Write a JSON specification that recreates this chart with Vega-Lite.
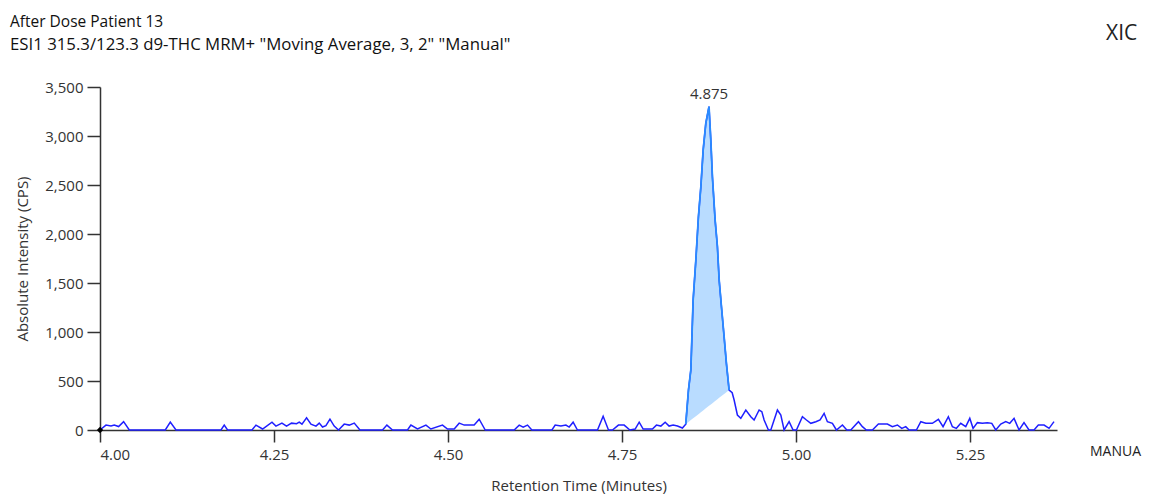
{
  "$schema": "https://vega.github.io/schema/vega-lite/v6.json",
  "width": 957,
  "height": 343,
  "autosize": {"type": "none"},
  "padding": {"left": 100, "top": 87, "right": 101, "bottom": 66},
  "background": "white",
  "config": {"view": {"stroke": null}, "font": "Open Sans"},
  "title": {
    "text": "After Dose Patient 13",
    "subtitle": "\u00a0ESI1 315.3/123.3 d9-THC MRM+ \"Moving Average, 3, 2\" \"Manual\"",
    "anchor": "start",
    "frame": "group",
    "dx": -90,
    "offset": -31,
    "font": "Open Sans",
    "subtitleFont": "Open Sans",
    "fontSize": 15.5,
    "subtitleFontSize": 16.8,
    "fontWeight": "normal",
    "color": "#111111",
    "subtitleColor": "#111111",
    "subtitlePadding": 7
  },
  "datasets": {
    "trace": [
      {"t": 4.0, "v": 0},
      {"t": 4.0086, "v": 50},
      {"t": 4.0158, "v": 40},
      {"t": 4.0205, "v": 50},
      {"t": 4.0267, "v": 35},
      {"t": 4.0339, "v": 85},
      {"t": 4.0421, "v": 0},
      {"t": 4.0938, "v": 0},
      {"t": 4.1010, "v": 80},
      {"t": 4.1092, "v": 0},
      {"t": 4.1738, "v": 0},
      {"t": 4.1785, "v": 50},
      {"t": 4.1833, "v": 0},
      {"t": 4.2183, "v": 0},
      {"t": 4.2241, "v": 50},
      {"t": 4.2336, "v": 10},
      {"t": 4.2471, "v": 80},
      {"t": 4.2528, "v": 40},
      {"t": 4.2614, "v": 70},
      {"t": 4.2680, "v": 40},
      {"t": 4.2752, "v": 70},
      {"t": 4.2824, "v": 65},
      {"t": 4.2863, "v": 80},
      {"t": 4.2902, "v": 60},
      {"t": 4.2968, "v": 125},
      {"t": 4.3031, "v": 60},
      {"t": 4.3103, "v": 40},
      {"t": 4.3150, "v": 70},
      {"t": 4.3197, "v": 30},
      {"t": 4.3246, "v": 45},
      {"t": 4.3304, "v": 110},
      {"t": 4.3365, "v": 40},
      {"t": 4.3427, "v": 0},
      {"t": 4.3509, "v": 60},
      {"t": 4.3581, "v": 50},
      {"t": 4.3653, "v": 70},
      {"t": 4.3735, "v": 0},
      {"t": 4.4059, "v": 0},
      {"t": 4.4122, "v": 50},
      {"t": 4.4203, "v": 0},
      {"t": 4.4418, "v": 0},
      {"t": 4.4467, "v": 50},
      {"t": 4.4562, "v": 10},
      {"t": 4.4683, "v": 50},
      {"t": 4.4754, "v": 10},
      {"t": 4.4921, "v": 50},
      {"t": 4.4993, "v": 10},
      {"t": 4.5089, "v": 10},
      {"t": 4.5161, "v": 70},
      {"t": 4.5233, "v": 50},
      {"t": 4.5305, "v": 50},
      {"t": 4.5376, "v": 50},
      {"t": 4.5448, "v": 110},
      {"t": 4.5535, "v": 0},
      {"t": 4.5951, "v": 0},
      {"t": 4.6023, "v": 50},
      {"t": 4.6080, "v": 30},
      {"t": 4.6142, "v": 50},
      {"t": 4.6205, "v": 0},
      {"t": 4.6493, "v": 0},
      {"t": 4.6540, "v": 50},
      {"t": 4.6622, "v": 40},
      {"t": 4.6694, "v": 50},
      {"t": 4.6741, "v": 30},
      {"t": 4.6798, "v": 80},
      {"t": 4.6860, "v": 0},
      {"t": 4.7148, "v": 0},
      {"t": 4.7229, "v": 140},
      {"t": 4.7306, "v": 0},
      {"t": 4.7363, "v": 0},
      {"t": 4.7449, "v": 50},
      {"t": 4.7531, "v": 50},
      {"t": 4.7613, "v": 0},
      {"t": 4.7689, "v": 10},
      {"t": 4.7747, "v": 80},
      {"t": 4.7804, "v": 10},
      {"t": 4.7937, "v": 10},
      {"t": 4.7995, "v": 50},
      {"t": 4.8058, "v": 40},
      {"t": 4.8120, "v": 80},
      {"t": 4.8177, "v": 40},
      {"t": 4.8235, "v": 50},
      {"t": 4.8297, "v": 40},
      {"t": 4.8368, "v": 20},
      {"t": 4.8416, "v": 60, "base": 60},
      {"t": 4.8455, "v": 408, "base": 82},
      {"t": 4.8489, "v": 612, "base": 101},
      {"t": 4.8522, "v": 1326, "base": 119},
      {"t": 4.8561, "v": 1734, "base": 141},
      {"t": 4.8598, "v": 2176, "base": 161},
      {"t": 4.8633, "v": 2482, "base": 181},
      {"t": 4.8666, "v": 2856, "base": 199},
      {"t": 4.8704, "v": 3128, "base": 221},
      {"t": 4.875, "v": 3300, "base": 247},
      {"t": 4.8776, "v": 2958, "base": 261},
      {"t": 4.8799, "v": 2584, "base": 274},
      {"t": 4.8838, "v": 2142, "base": 296},
      {"t": 4.8871, "v": 1870, "base": 314},
      {"t": 4.8896, "v": 1530, "base": 328},
      {"t": 4.8929, "v": 1258, "base": 347},
      {"t": 4.8967, "v": 952, "base": 368},
      {"t": 4.9000, "v": 680, "base": 386},
      {"t": 4.9039, "v": 408, "base": 408},
      {"t": 4.9083, "v": 380},
      {"t": 4.9111, "v": 306},
      {"t": 4.9158, "v": 153},
      {"t": 4.9207, "v": 119},
      {"t": 4.9279, "v": 204},
      {"t": 4.9351, "v": 136},
      {"t": 4.9398, "v": 102},
      {"t": 4.9470, "v": 204},
      {"t": 4.9509, "v": 187},
      {"t": 4.9542, "v": 102},
      {"t": 4.9604, "v": 0},
      {"t": 4.9638, "v": 0},
      {"t": 4.9733, "v": 204},
      {"t": 4.9782, "v": 153},
      {"t": 4.9829, "v": 0},
      {"t": 4.9901, "v": 85},
      {"t": 4.9958, "v": 0},
      {"t": 5.0006, "v": 0},
      {"t": 5.0092, "v": 136},
      {"t": 5.0150, "v": 102},
      {"t": 5.0213, "v": 68},
      {"t": 5.0285, "v": 85},
      {"t": 5.0346, "v": 102},
      {"t": 5.0404, "v": 170},
      {"t": 5.0451, "v": 85},
      {"t": 5.0523, "v": 68},
      {"t": 5.0581, "v": 0},
      {"t": 5.0667, "v": 51},
      {"t": 5.0730, "v": 0},
      {"t": 5.0787, "v": 0},
      {"t": 5.0897, "v": 85},
      {"t": 5.0954, "v": 34},
      {"t": 5.1011, "v": 0},
      {"t": 5.1098, "v": 0},
      {"t": 5.1184, "v": 61},
      {"t": 5.1313, "v": 61},
      {"t": 5.1385, "v": 34},
      {"t": 5.1457, "v": 51},
      {"t": 5.1520, "v": 17},
      {"t": 5.1577, "v": 34},
      {"t": 5.1625, "v": 0},
      {"t": 5.1730, "v": 0},
      {"t": 5.1793, "v": 85},
      {"t": 5.1865, "v": 68},
      {"t": 5.1959, "v": 68},
      {"t": 5.2046, "v": 109},
      {"t": 5.2113, "v": 34},
      {"t": 5.2189, "v": 136},
      {"t": 5.2247, "v": 34},
      {"t": 5.2304, "v": 17},
      {"t": 5.2367, "v": 68},
      {"t": 5.2439, "v": 34},
      {"t": 5.2497, "v": 119},
      {"t": 5.2544, "v": 17},
      {"t": 5.2606, "v": 75},
      {"t": 5.2678, "v": 68},
      {"t": 5.2750, "v": 75},
      {"t": 5.2813, "v": 68},
      {"t": 5.2870, "v": 0},
      {"t": 5.2942, "v": 61},
      {"t": 5.3014, "v": 85},
      {"t": 5.3071, "v": 68},
      {"t": 5.3133, "v": 119},
      {"t": 5.3205, "v": 0},
      {"t": 5.3276, "v": 75},
      {"t": 5.3348, "v": 0},
      {"t": 5.3420, "v": 0},
      {"t": 5.3482, "v": 51},
      {"t": 5.3564, "v": 51},
      {"t": 5.3636, "v": 17},
      {"t": 5.3707, "v": 85}
    ]
  },
  "layer": [
    {
      "data": {"name": "trace"},
      "encoding": {
        "x": {
          "field": "t",
          "type": "quantitative",
          "scale": {"domain": [4.0, 5.375], "nice": false, "zero": false},
          "axis": {
            "title": "Retention Time (Minutes)",
            "values": [4.0, 4.25, 4.5, 4.75, 5.0, 5.25],
            "format": ".2f",
            "grid": false,
            "tickSize": 12,
            "tickWidth": 1.5,
            "tickColor": "#333333",
            "domainColor": "#333333",
            "domainWidth": 1.5,
            "labelFontSize": 15,
            "labelColor": "#333333",
            "labelPadding": 5,
            "labelFont": "Open Sans",
            "titleFont": "Open Sans",
            "titleFontSize": 15,
            "titleFontWeight": "normal",
            "titleColor": "#333333",
            "titlePadding": 16
          }
        },
        "y": {
          "field": "v",
          "type": "quantitative",
          "scale": {"domain": [0, 3500], "nice": false},
          "axis": {
            "title": "Absolute Intensity (CPS)",
            "values": [0, 500, 1000, 1500, 2000, 2500, 3000, 3500],
            "format": ",d",
            "grid": false,
            "tickSize": 13,
            "tickWidth": 1.5,
            "tickColor": "#333333",
            "domainColor": "#333333",
            "domainWidth": 1.5,
            "labelFontSize": 15,
            "labelColor": "#333333",
            "labelPadding": 4,
            "labelFont": "Open Sans",
            "titleFont": "Open Sans",
            "titleFontSize": 15,
            "titleFontWeight": "normal",
            "titleColor": "#333333",
            "titlePadding": 14
          }
        }
      },
      "layer": [
        {
          "transform": [{"filter": "isValid(datum.base)"}],
          "mark": {"type": "area", "color": "#b9dcff", "opacity": 1},
          "encoding": {"y2": {"field": "base"}}
        },
        {
          "mark": {"type": "line", "color": "#1f1fff", "strokeWidth": 1.5}
        },
        {
          "transform": [{"filter": "isValid(datum.base)"}],
          "mark": {"type": "line", "color": "#2a8cff", "strokeWidth": 1.8}
        },
        {
          "transform": [{"filter": "datum.t == 4.875"}],
          "mark": {"type": "text", "baseline": "bottom", "dy": -5, "fontSize": 15, "color": "#333333", "font": "Open Sans"},
          "encoding": {"text": {"field": "t", "type": "quantitative", "format": ".3f"}}
        },
        {
          "transform": [{"filter": "datum.t == 4.0"}],
          "mark": {"type": "point", "shape": "diamond", "filled": true, "color": "black", "size": 40, "opacity": 1}
        }
      ]
    },
    {
      "data": {"values": [{"label": "XIC"}]},
      "mark": {"type": "text", "align": "left", "baseline": "alphabetic", "dx": 49, "dy": -47, "fontSize": 21, "color": "#222222", "font": "Open Sans"},
      "encoding": {
        "x": {"datum": 5.375, "type": "quantitative"},
        "y": {"datum": 3500, "type": "quantitative"},
        "text": {"field": "label"}
      }
    },
    {
      "data": {"values": [{"label": "MANUA"}]},
      "mark": {"type": "text", "align": "left", "baseline": "middle", "dx": 33, "dy": 22, "fontSize": 14, "color": "#222222", "font": "Open Sans"},
      "encoding": {
        "x": {"datum": 5.375, "type": "quantitative"},
        "y": {"datum": 0, "type": "quantitative"},
        "text": {"field": "label"}
      }
    }
  ]
}
